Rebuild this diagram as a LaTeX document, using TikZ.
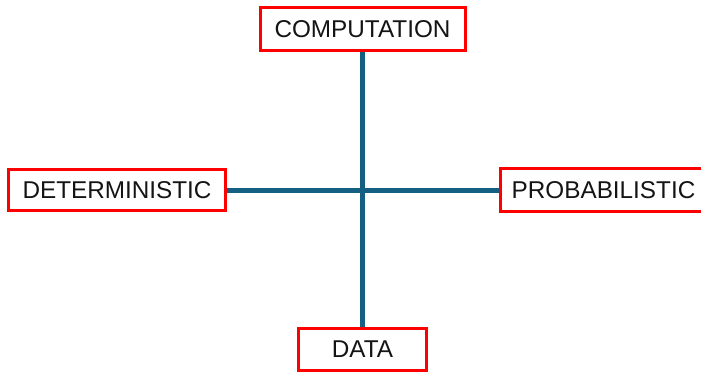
\documentclass[tikz,border=0pt]{standalone}
\usepackage{fontspec}
\setmainfont{Liberation Sans}
\usetikzlibrary{backgrounds}
\definecolor{axisblue}{HTML}{156082}
\definecolor{boxred}{HTML}{FF0000}
\definecolor{ink}{HTML}{141414}
\begin{document}
\begin{tikzpicture}[x=1pt,y=-1pt,
  label box/.style={draw=boxred, line width=3pt, fill=white, rectangle,
    inner sep=0pt, text=ink, font=\fontsize{24.3}{27}\selectfont},
  axis line/.style={draw=axisblue, line width=5pt}]
  \useasboundingbox (0,0) rectangle (701,373);
  \clip (0,0) rectangle (701,373);
  % the four poles
  \node[label box, minimum width=205pt, minimum height=43pt] (comp) at (362.5,29) {COMPUTATION};
  \node[label box, minimum width=217pt, minimum height=41pt] (det) at (117,190) {DETERMINISTIC};
  \node[label box, minimum width=207pt, minimum height=43pt] (prob) at (603.5,190) {PROBABILISTIC};
  \node[label box, minimum width=128pt, minimum height=42pt] (data) at (362.5,349.5) {DATA};
  % the two axes, behind the boxes
  \begin{scope}[on background layer]
    \path[axis line] (comp.south) -- (data.north);
    \path[axis line] (det.east) -- (prob.west);
  \end{scope}
\end{tikzpicture}
\end{document}
